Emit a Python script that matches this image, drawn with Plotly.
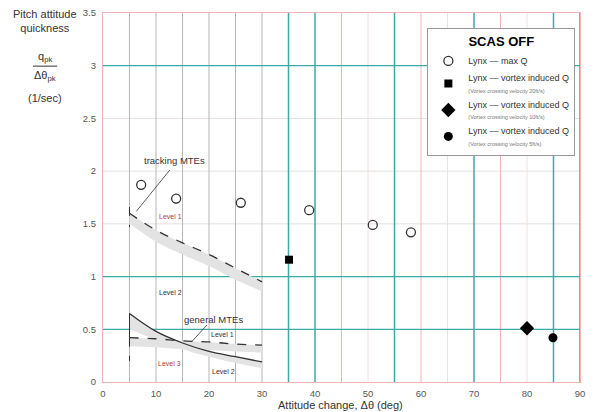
import plotly.graph_objects as go

# ---------------- data ----------------
maxq_x = [7.2, 13.8, 26.0, 38.9, 50.9, 58.1]
maxq_y = [1.87, 1.74, 1.70, 1.63, 1.49, 1.42]

v20_x = [35.1]
v20_y = [1.16]
v10_x = [80.0]
v10_y = [0.51]
v5_x = [84.9]
v5_y = [0.42]

# boundary curves
bx = [5, 10, 15, 20, 25, 30]
track_l1 = [1.60, 1.44, 1.32, 1.21, 1.08, 0.95]
track_band = [1.50, 1.33, 1.21, 1.10, 0.97, 0.86]
gen_l23 = [0.65, 0.48, 0.37, 0.29, 0.24, 0.19]
gen_l23_band = [0.50, 0.40, 0.31, 0.24, 0.18, 0.13]
gen_l12 = [0.42, 0.41, 0.39, 0.38, 0.36, 0.35]
gen_l12_band = [0.34, 0.33, 0.31, 0.30, 0.29, 0.28]

track_vx = [5, 5]
track_vy = [1.66, 1.47]
gen_solid_vx = [5, 5]
gen_solid_vy = [0.65, 0.42]
gen_dash_vx = [5, 5]
gen_dash_vy = [0.42, 0.20]

x_ticks = [0, 10, 20, 30, 40, 50, 60, 70, 80, 90]
y_ticks = [0, 0.5, 1, 1.5, 2, 2.5, 3, 3.5]

v_gray = [5, 10, 15, 20, 25, 30]
v_teal = [35, 40, 55, 70, 85, 90]
v_pink = [45, 60, 75]
v_faint = [50, 65, 80]
h_teal = [0.5, 1, 3]
h_light = [1.5, 2, 2.5]

FONT = "Liberation Sans, Arial, sans-serif"
TEAL = "#3fa9a6"
PINK = "#f2b3b5"
FAINT = "#f7dcdd"
GRAY = "#b5b5b5"
LIGHT = "#e6dfdf"
BAND = "#e3e3e3"
INK = "#333333"

fig = go.Figure()

# gray bands
def band(x, top, bot):
    fig.add_trace(go.Scatter(x=x, y=bot, mode="lines", line=dict(width=0, shape="spline"),
                             showlegend=False, hoverinfo="skip"))
    fig.add_trace(go.Scatter(x=x, y=top, mode="lines", line=dict(width=0, shape="spline"),
                             fill="tonexty", fillcolor=BAND, showlegend=False, hoverinfo="skip"))

band(bx, track_l1, track_band)
band(bx, gen_l23, gen_l23_band)
band(bx, gen_l12, gen_l12_band)

# boundary lines
fig.add_trace(go.Scatter(x=bx, y=track_l1, mode="lines",
                         line=dict(color=INK, width=1.3, dash="dash", shape="spline"),
                         showlegend=False, hoverinfo="skip"))
fig.add_trace(go.Scatter(x=track_vx, y=track_vy, mode="lines",
                         line=dict(color=INK, width=1, dash="dash"), showlegend=False, hoverinfo="skip"))
fig.add_trace(go.Scatter(x=bx, y=gen_l23, mode="lines",
                         line=dict(color=INK, width=1.3, shape="spline"),
                         showlegend=False, hoverinfo="skip"))
fig.add_trace(go.Scatter(x=bx, y=gen_l12, mode="lines",
                         line=dict(color=INK, width=1.3, dash="dash", shape="spline"),
                         showlegend=False, hoverinfo="skip"))
fig.add_trace(go.Scatter(x=gen_solid_vx, y=gen_solid_vy, mode="lines",
                         line=dict(color=INK, width=1), showlegend=False, hoverinfo="skip"))
fig.add_trace(go.Scatter(x=gen_dash_vx, y=gen_dash_vy, mode="lines",
                         line=dict(color=INK, width=1, dash="dash"), showlegend=False, hoverinfo="skip"))

# data points
sub = "<br><span style='font-size:5.5px;color:#777'>(Vortex crossing velocity {})</span>"
fig.add_trace(go.Scatter(x=maxq_x, y=maxq_y, mode="markers", name="Lynx \u2014 max Q",
                         marker=dict(symbol="circle-open", size=9, color=INK, line=dict(width=1.3))))
fig.add_trace(go.Scatter(x=v20_x, y=v20_y, mode="markers",
                         name="Lynx \u2014 vortex induced Q" + sub.format("20ft/s"),
                         marker=dict(symbol="square", size=8, color="black")))
fig.add_trace(go.Scatter(x=v10_x, y=v10_y, mode="markers",
                         name="Lynx \u2014 vortex induced Q" + sub.format("10ft/s"),
                         marker=dict(symbol="diamond", size=11, color="black")))
fig.add_trace(go.Scatter(x=v5_x, y=v5_y, mode="markers",
                         name="Lynx \u2014 vortex induced Q" + sub.format("5ft/s"),
                         marker=dict(symbol="circle", size=9, color="black")))

# grid lines
shapes = []
def vline(v, c, w=1):
    shapes.append(dict(type="line", xref="x", yref="y", x0=v, x1=v, y0=0, y1=3.5,
                       line=dict(color=c, width=w), layer="below"))
def hline(v, c, w=1):
    shapes.append(dict(type="line", xref="x", yref="y", x0=0, x1=90, y0=v, y1=v,
                       line=dict(color=c, width=w), layer="below"))
for v in h_light: hline(v, LIGHT)
for v in v_faint: vline(v, FAINT)
for v in v_gray: vline(v, GRAY)
for v in v_pink: vline(v, PINK)
for v in h_teal: hline(v, TEAL, 1.2)
for v in v_teal: vline(v, TEAL, 1.5)

# fraction line for y-title
shapes.append(dict(type="line", xref="paper", yref="paper", x0=-0.147, x1=-0.096,
                   y0=0.856, y1=0.856, line=dict(color=INK, width=1)))

ann = []
def text(x, y, s, size=8, color=INK, xref="x", yref="y", **kw):
    ann.append(dict(x=x, y=y, xref=xref, yref=yref, text=s, showarrow=False,
                    xanchor="center", yanchor="middle",
                    font=dict(family=FONT, size=size, color=color), **kw))

text(13.4, 2.1, "tracking MTEs", size=9.5)
text(12.7, 1.57, "Level 1", size=7, color="#b04040")
text(12.7, 0.85, "Level 2", size=7)
text(20.8, 0.59, "general MTEs", size=9.5)
text(22.6, 0.455, "Level 1", size=7)
text(12.6, 0.18, "Level 3", size=7, color="#b04040")
text(22.8, 0.095, "Level 2", size=7)

# leader lines
shapes.append(dict(type="line", xref="x", yref="y", x0=12.6, y0=2.01, x1=6.3, y1=1.62,
                   line=dict(color=INK, width=0.8)))
shapes.append(dict(type="line", xref="x", yref="y", x0=19.6, y0=0.54, x1=16.7, y1=0.38,
                   line=dict(color=INK, width=0.8)))

# y-axis title block
text(-0.122, 0.977, "Pitch attitude<br>quickness", size=11, xref="paper", yref="paper")
text(-0.122, 0.881, "q<sub>pk</sub>", size=11, xref="paper", yref="paper")
text(-0.122, 0.829, "\u0394\u03b8<sub>pk</sub>", size=11, xref="paper", yref="paper")
text(-0.122, 0.770, "(1/sec)", size=11, xref="paper", yref="paper")
text(0.497, -0.061, "Attitude change, \u0394\u03b8 (deg)", size=11, xref="paper", yref="paper")

fig.update_layout(
    width=587, height=404,
    margin=dict(l=95, r=15, t=5, b=30, autoexpand=False),
    paper_bgcolor="white", plot_bgcolor="white",
    font=dict(family=FONT, size=10, color=INK),
    shapes=shapes, annotations=ann,
    showlegend=True,
    legend=dict(x=0.68, y=0.958, xanchor="left", yanchor="top",
                traceorder="normal",
                bgcolor="white", bordercolor="#999999", borderwidth=1,
                title=dict(text="<b>SCAS OFF</b>", side="top center",
                           font=dict(size=13, color="black", family=FONT)),
                font=dict(size=9, color=INK, family=FONT),
                itemwidth=30, tracegroupgap=0),
    xaxis=dict(range=[0, 90], tickvals=x_ticks, showgrid=False, zeroline=False,
               showline=True, linecolor=PINK, linewidth=1.2, mirror=True,
               ticks="", ticklabeloverflow="allow", ticklabelstandoff=2, automargin=False,
               tickfont=dict(size=9.5, color="#555")),
    yaxis=dict(range=[0, 3.5], tickvals=y_ticks, showgrid=False, zeroline=False,
               showline=True, linecolor=PINK, linewidth=1.2, mirror=True,
               ticks="", ticklabeloverflow="allow", ticklabelstandoff=4, automargin=False,
               tickfont=dict(size=9.5, color="#555")),
)

fig.write_html("out.html")
